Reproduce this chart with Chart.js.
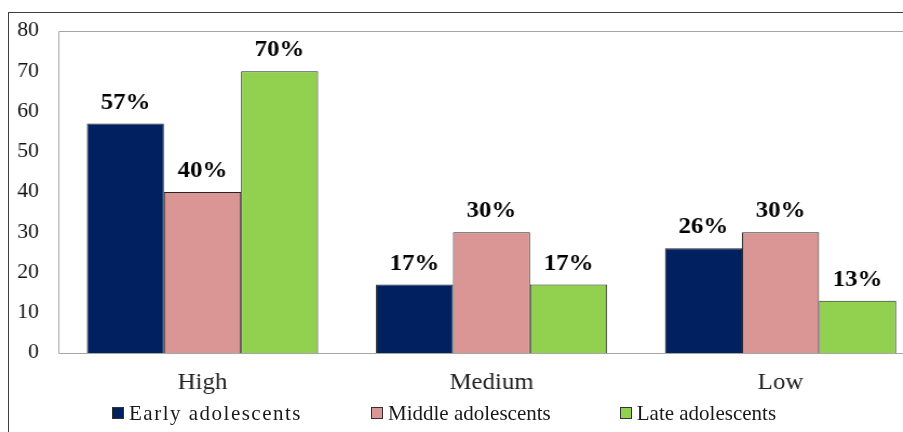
<!DOCTYPE html>
<html>
<head>
<meta charset="utf-8">
<script src="https://cdn.jsdelivr.net/npm/chart.js@4.4.1/dist/chart.umd.min.js"></script>
<style>
  html, body { margin: 0; padding: 0; background: #fff; overflow: hidden; }
  body { width: 903px; height: 432px; position: relative; }
  #frameTop { position: absolute; left: 8px; top: 12px; width: 895px; height: 1px; background: #404040; }
  #frameLeft { position: absolute; left: 8px; top: 12px; width: 1px; height: 420px; background: #404040; }
  #wrap { position: absolute; left: 0; top: 0; width: 880px; height: 432px;
          transform: scaleX(1.08); transform-origin: 0 0; }
  #legend { position: absolute; left: 112px; top: 401px; display: flex; gap: 69px;
            font-family: 'Liberation Serif', 'Times New Roman', serif; font-size: 21px;
            line-height: 24px; color: #1a1a1a; white-space: nowrap; }
  #legend .sw { display: inline-block; width: 10px; height: 10px; border: 1px solid #333;
                margin-right: 5px; vertical-align: 1px; }
  #legend .item:first-child .txt { letter-spacing: 1.5px; }
</style>
</head>
<body>
<div id="frameTop"></div>
<div id="frameLeft"></div>
<div id="wrap"><canvas id="grafica" width="880" height="432"></canvas></div>
<div id="legend"></div>
<script>
var categorias = ["High", "Medium", "Low"];
var grupos = ["Early adolescents", "Middle adolescents", "Late adolescents"];
var early = [57, 17, 26];
var middle = [40, 30, 30];
var late = [70, 17, 13];
var colores = ["#002060", "#D99694", "#92D050"];

var serif = "'Liberation Serif', 'Times New Roman', serif";

var datasets = [early, middle, late].map(function(valores, i) {
    return {
        label: grupos[i],
        data: valores,
        backgroundColor: colores[i],
        borderColor: "#262626",
        borderWidth: 1,
        categoryPercentage: 0.8,
        barPercentage: 1.0
    };
});

// etiquetas de porcentaje encima de cada barra
var etiquetas = {
    id: "etiquetas",
    afterDatasetsDraw: function(chart) {
        var ctx = chart.ctx;
        ctx.save();
        ctx.font = "bold 23px " + serif;
        ctx.fillStyle = "#000";
        ctx.textAlign = "center";
        ctx.textBaseline = "alphabetic";
        chart.data.datasets.forEach(function(ds, i) {
            chart.getDatasetMeta(i).data.forEach(function(bar, j) {
                ctx.fillText(ds.data[j] + "%", bar.x, bar.y - 15);
            });
        });
        ctx.restore();
    }
};

// borde gris del area de trazado (el lado derecho queda fuera de la imagen)
var marco = {
    id: "marco",
    beforeDatasetsDraw: function(chart) {
        var a = chart.chartArea;
        var ctx = chart.ctx;
        var l = Math.round(a.left) + 0.5, t = Math.round(a.top) + 0.5;
        var r = Math.round(a.right) + 0.5, b = Math.round(a.bottom) + 0.5;
        ctx.save();
        ctx.strokeStyle = "#a6a6a6";
        ctx.lineWidth = 1;
        ctx.beginPath();
        ctx.moveTo(l, b); ctx.lineTo(l, t); ctx.lineTo(r, t);
        ctx.moveTo(l, b); ctx.lineTo(r, b);
        ctx.stroke();
        ctx.restore();
    }
};

var ctx = document.getElementById("grafica").getContext("2d");
var grafica = new Chart(ctx, {
    type: "bar",
    data: { labels: categorias, datasets: datasets },
    options: {
        responsive: false,
        animation: false,
        devicePixelRatio: 1,
        layout: { padding: { top: 31, right: 23.5, bottom: 0, left: 0 } },
        plugins: {
            legend: { display: false },
            tooltip: { enabled: false }
        },
        scales: {
            x: {
                grid: { display: false, drawTicks: false },
                border: { display: false },
                ticks: { color: "#222", padding: 16, font: { family: serif, size: 23 } },
                afterFit: function(scale) { scale.height = 79; }
            },
            y: {
                min: 0,
                max: 80,
                grid: { display: false, drawTicks: false },
                border: { display: false },
                ticks: { stepSize: 10, color: "#111", padding: 17.6, font: { family: serif, size: 20 } },
                afterFit: function(scale) { scale.width = 53.7; }
            }
        }
    },
    plugins: [marco, etiquetas]
});

// leyenda en HTML
var leyenda = document.getElementById("legend");
grupos.forEach(function(nombre, i) {
    var item = document.createElement("span");
    item.className = "item";
    var sw = document.createElement("span");
    sw.className = "sw";
    sw.style.background = colores[i];
    var txt = document.createElement("span");
    txt.className = "txt";
    txt.textContent = nombre;
    item.appendChild(sw);
    item.appendChild(txt);
    leyenda.appendChild(item);
});
</script>
</body>
</html>
